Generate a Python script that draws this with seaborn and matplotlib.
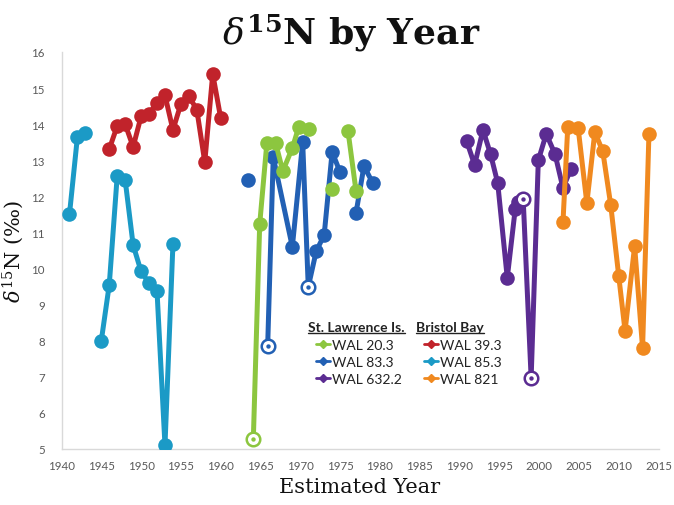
import numpy as np
import pandas as pd
import matplotlib
matplotlib.use("Agg")
import matplotlib.pyplot as plt
import seaborn as sns
from matplotlib.lines import Line2D
from matplotlib.transforms import IdentityTransform

# ---------------- data ----------------
# WAL 39.3 (Bristol Bay)
red_years = [1946, 1947, 1948, 1949, 1950, 1951, 1952, 1953, 1954, 1955, 1956, 1957, 1958, 1959, 1960]
red_vals = [13.31, 13.95, 14.0, 13.37, 14.22, 14.28, 14.6, 14.8, 13.84, 14.56, 14.78, 14.4, 12.95, 15.39, 14.17]
red_seg = [0] * 15
red_open = [False] * 15

# WAL 85.3 (Bristol Bay)
cyan_years = [1941, 1942, 1943, 1945, 1946, 1947, 1948, 1949, 1950, 1951, 1952, 1953, 1954]
cyan_vals = [11.5, 13.65, 13.75, 8.0, 9.55, 12.57, 12.45, 10.65, 9.92, 9.6, 9.37, 5.1, 10.68]
cyan_seg = [0, 0, 0, 1, 1, 1, 1, 1, 1, 1, 1, 1, 1]
cyan_open = [False] * 13

# WAL 83.3 (St. Lawrence Is.)
blue_years = [1963.4, 1965.9, 1966.6, 1969.0, 1970.3, 1971.0, 1972.0, 1973.0, 1974.0, 1975.0, 1977.0, 1978.0, 1979.1]
blue_vals = [12.45, 7.85, 13.09, 10.6, 13.5, 9.49, 10.48, 10.93, 13.23, 12.67, 11.54, 12.84, 12.37]
blue_seg = [0, 1, 1, 1, 1, 1, 1, 1, 1, 1, 2, 2, 2]
blue_open = [False, True, False, False, False, True, False, False, False, False, False, False, False]

# WAL 20.3 (St. Lawrence Is.)
green_years = [1964.1, 1964.9, 1965.8, 1966.9, 1967.8, 1969.0, 1969.8, 1971.1, 1974.0, 1976.0, 1977.0]
green_vals = [5.28, 11.23, 13.48, 13.48, 12.7, 13.34, 13.92, 13.86, 12.2, 13.8, 12.15]
green_seg = [0, 0, 0, 0, 0, 0, 0, 0, 1, 2, 2]
green_open = [True] + [False] * 10

# WAL 632.2 (St. Lawrence Is.)
purple_years = [1990.9, 1991.9, 1992.95, 1993.9, 1994.8, 1996.0, 1997.0, 1997.3, 1998.0, 1999.0, 1999.9, 2000.9, 2002.0, 2003.0, 2004.0]
purple_vals = [13.53, 12.87, 13.84, 13.17, 12.37, 9.74, 11.65, 11.85, 11.93, 6.97, 13.0, 13.73, 13.17, 12.23, 12.76]
purple_seg = [0] * 15
purple_open = [False] * 8 + [True, True] + [False] * 5

# WAL 821 (Bristol Bay)
orange_years = [2003.0, 2003.6, 2004.9, 2006.0, 2007.0, 2008.0, 2009.0, 2010.0, 2010.8, 2012.0, 2013.0, 2013.8]
orange_vals = [11.29, 13.92, 13.9, 11.81, 13.78, 13.25, 11.76, 9.8, 8.27, 10.62, 7.8, 13.73]
orange_seg = [0] * 12
orange_open = [False] * 12

series = [
    ("WAL 39.3", red_years, red_vals, red_seg, red_open, "#C1232B"),
    ("WAL 85.3", cyan_years, cyan_vals, cyan_seg, cyan_open, "#1B9AC6"),
    ("WAL 83.3", blue_years, blue_vals, blue_seg, blue_open, "#2260B4"),
    ("WAL 20.3", green_years, green_vals, green_seg, green_open, "#8CC63F"),
    ("WAL 632.2", purple_years, purple_vals, purple_seg, purple_open, "#5B2C92"),
    ("WAL 821", orange_years, orange_vals, orange_seg, orange_open, "#F0891F"),
]

x_ticks = list(range(1940, 2016, 5))
y_ticks = list(range(5, 17))

# ---------------- plot ----------------
sns.set_theme(style="white")
plt.rcParams["mathtext.fontset"] = "dejavuserif"

fig = plt.figure(figsize=(6.74, 5.06), dpi=100)
ax = fig.add_axes([61.5 / 674, 1 - 450 / 506, 597 / 674, 397 / 506])

colors = {}
for z, (name, yrs, vals, seg, opn, col) in enumerate(series):
    colors[name] = col
    df = pd.DataFrame({"year": yrs, "val": vals, "seg": seg, "open": opn})
    sns.lineplot(data=df, x="year", y="val", units="seg", estimator=None,
                 sort=False, color=col, linewidth=3.6, marker="o",
                 markersize=10.5, markeredgewidth=0, ax=ax, legend=False,
                 zorder=3 + z)
    od = df[df["open"]]
    if len(od):
        sns.scatterplot(data=od, x="year", y="val", ax=ax, s=95,
                        facecolor="white", edgecolor=col, linewidth=1.8,
                        zorder=3.5 + z, legend=False)
        sns.scatterplot(data=od, x="year", y="val", ax=ax, s=10,
                        color=col, linewidth=0, zorder=3.6 + z, legend=False)

ax.set_xlim(1940, 2015)
ax.set_ylim(5, 16)
ax.set_xticks(x_ticks)
ax.set_yticks(y_ticks)
ax.tick_params(axis="both", length=0, labelsize=8.3, labelcolor="#595959")
ax.tick_params(axis="x", pad=8)
ax.tick_params(axis="y", pad=12)
for lab in ax.get_xticklabels() + ax.get_yticklabels():
    lab.set_fontfamily("Lato")
for s in ["top", "right"]:
    ax.spines[s].set_visible(False)
for s in ["left", "bottom"]:
    ax.spines[s].set_color("#D9D9D9")
    ax.spines[s].set_linewidth(1.0)
ax.grid(False)

ax.set_xlabel("Estimated Year", family="DejaVu Serif", fontsize=15, color="#111111", labelpad=4)
ax.set_ylabel(r"$\delta^{15}$N (‰)", family="DejaVu Serif", fontsize=15, color="#111111", labelpad=4)

fig.text(0.521, 0.935, r"$\delta^{\mathbf{15}}$N by Year", family="DejaVu Serif",
         fontweight="bold", fontsize=26, ha="center", va="center", color="#111111")

# legend
def handle(name):
    return Line2D([], [], color=colors[name], marker="D", markersize=4.5, linewidth=2)

order = ["WAL 20.3", "WAL 83.3", "WAL 632.2", "WAL 39.3", "WAL 85.3", "WAL 821"]
leg = ax.legend([handle(n) for n in order], order, ncol=2, frameon=False,
                loc="upper left", bbox_to_anchor=(316 / 674, 1 - 340 / 506),
                bbox_transform=fig.transFigure, handlelength=1.0,
                handletextpad=0.15, columnspacing=1.6, labelspacing=0.35,
                borderpad=0, borderaxespad=0,
                prop={"family": "Lato", "size": 10})
for t in leg.get_texts():
    t.set_color("#222222")

h1 = fig.text(308 / 674, 1 - 328 / 506, "St. Lawrence Is.", family="Lato",
              fontweight="bold", fontsize=10, ha="left", va="center", color="#222222")
h2 = fig.text(416 / 674, 1 - 328 / 506, "Bristol Bay", family="Lato",
              fontweight="bold", fontsize=10, ha="left", va="center", color="#222222")

fig.canvas.draw()
r = fig.canvas.get_renderer()
for h in (h1, h2):
    bb = h.get_window_extent(r)
    fig.add_artist(Line2D([bb.x0, bb.x1], [bb.y0 + 0.5, bb.y0 + 0.5],
                          transform=IdentityTransform(), color="#222222", linewidth=1.0))

fig.savefig("out.png", dpi=100)
